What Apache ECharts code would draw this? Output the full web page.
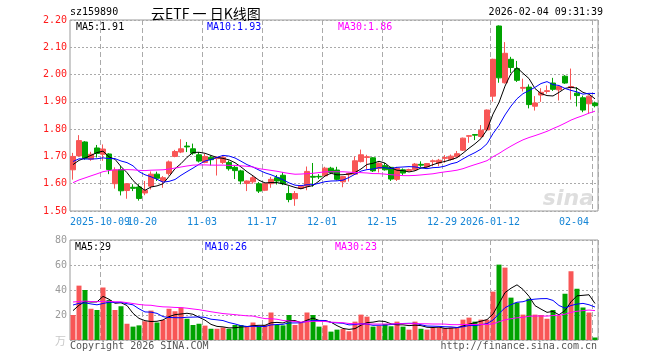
<!DOCTYPE html>
<html>
<head>
<meta charset="utf-8">
<script src="https://cdn.jsdelivr.net/npm/echarts@6/dist/echarts.min.js"></script>
<style>
html,body{margin:0;padding:0;background:#fff;}
#chart{width:660px;height:360px;}
</style>
</head>
<body>
<div id="chart"></div>
<script>
// ---------- data ----------
const dates = [
'2025-09-24','2025-09-25','2025-09-26','2025-09-29','2025-09-30',
'2025-10-09','2025-10-10','2025-10-13','2025-10-14','2025-10-15','2025-10-16','2025-10-17','2025-10-20','2025-10-21','2025-10-22','2025-10-23','2025-10-24','2025-10-27','2025-10-28','2025-10-29','2025-10-30','2025-10-31',
'2025-11-03','2025-11-04','2025-11-05','2025-11-06','2025-11-07','2025-11-10','2025-11-11','2025-11-12','2025-11-13','2025-11-14','2025-11-17','2025-11-18','2025-11-19','2025-11-20','2025-11-21','2025-11-24','2025-11-25','2025-11-26','2025-11-27','2025-11-28',
'2025-12-01','2025-12-02','2025-12-03','2025-12-04','2025-12-05','2025-12-08','2025-12-09','2025-12-10','2025-12-11','2025-12-12','2025-12-15','2025-12-16','2025-12-17','2025-12-18','2025-12-19','2025-12-22','2025-12-23','2025-12-24','2025-12-25','2025-12-26','2025-12-29','2025-12-30','2025-12-31',
'2026-01-05','2026-01-06','2026-01-07','2026-01-08','2026-01-09','2026-01-12','2026-01-13','2026-01-14','2026-01-15','2026-01-16','2026-01-19','2026-01-20','2026-01-21','2026-01-22','2026-01-23','2026-01-26','2026-01-27','2026-01-28','2026-01-29','2026-01-30',
'2026-02-02','2026-02-03','2026-02-04'
];

const open = [
1.651,1.702,1.753,1.690,1.731,1.708,1.709,1.600,1.652,1.575,
1.587,1.588,1.566,1.591,1.635,1.610,1.637,1.700,1.716,1.738,
1.728,1.706,1.678,1.697,1.692,1.678,1.678,1.660,1.647,1.601,
1.607,1.600,1.576,1.600,1.622,1.631,1.564,1.545,1.583,1.591,
1.627,1.627,1.629,1.657,1.650,1.607,1.633,1.635,1.681,1.696,
1.695,1.656,1.666,1.660,1.616,1.651,1.648,1.651,1.671,1.662,
1.681,1.676,1.693,1.689,1.699,1.723,1.774,1.780,1.773,1.797,
1.921,2.178,1.970,2.056,2.022,1.950,1.954,1.884,1.925,1.938,
1.969,1.944,1.994,1.952,1.932,1.915,1.893,1.896
];
const close = [
1.700,1.758,1.693,1.708,1.711,1.727,1.652,1.650,1.574,1.600,
1.583,1.546,1.576,1.635,1.620,1.622,1.680,1.718,1.728,1.735,
1.712,1.683,1.700,1.688,1.697,1.697,1.655,1.648,1.610,1.610,
1.622,1.573,1.600,1.616,1.610,1.600,1.542,1.564,1.591,1.645,
1.624,1.625,1.657,1.641,1.616,1.626,1.638,1.684,1.706,1.699,
1.647,1.675,1.651,1.617,1.657,1.639,1.652,1.672,1.668,1.674,
1.684,1.686,1.696,1.701,1.710,1.767,1.776,1.778,1.796,1.870,
2.056,1.988,2.078,2.026,1.979,1.953,1.890,1.896,1.935,1.941,
1.946,1.956,1.969,1.956,1.923,1.870,1.921,1.886
];
const low = [
1.615,1.700,1.688,1.684,1.696,1.684,1.635,1.582,1.557,1.545,
1.573,1.538,1.558,1.579,1.610,1.585,1.630,1.697,1.712,1.716,
1.706,1.678,1.675,1.667,1.630,1.672,1.648,1.617,1.598,1.573,
1.600,1.566,1.573,1.585,1.597,1.595,1.532,1.519,1.580,1.576,
1.589,1.617,1.625,1.635,1.612,1.587,1.608,1.632,1.678,1.653,
1.643,1.641,1.648,1.610,1.610,1.632,1.645,1.648,1.660,1.660,
1.664,1.664,1.677,1.685,1.695,1.720,1.750,1.760,1.769,1.794,
1.901,1.970,1.967,2.006,1.973,1.938,1.876,1.868,1.900,1.930,
1.940,1.905,1.966,1.908,1.883,1.862,1.856,1.880
];
const high = [
1.713,1.778,1.756,1.717,1.742,1.744,1.712,1.660,1.665,1.602,
1.598,1.598,1.610,1.645,1.644,1.628,1.685,1.724,1.763,1.753,
1.747,1.716,1.710,1.703,1.700,1.703,1.685,1.665,1.651,1.612,
1.628,1.606,1.603,1.625,1.632,1.643,1.591,1.573,1.593,1.663,
1.676,1.635,1.662,1.662,1.662,1.628,1.640,1.700,1.725,1.706,
1.697,1.678,1.676,1.662,1.662,1.656,1.655,1.676,1.682,1.676,
1.689,1.691,1.705,1.707,1.720,1.769,1.778,1.781,1.815,1.872,
2.058,2.180,2.119,2.065,2.050,1.985,1.964,1.921,1.950,1.960,
1.988,1.960,1.998,2.022,1.954,1.923,1.923,1.901
];
// volume, unit: 万
const volume = [
20,43.5,40,25,24,42,32,24,27,13,
10.7,11.7,15,23.5,14,16,25,23,26,17,
12,13,11.5,9,9,10,9,12,12,10.4,
14,10.4,12,22,12,11.7,20,12,13.6,22,
20,10.7,11.7,6.7,8.3,8.8,7,14.7,20.3,18.7,
10.7,11.5,12.8,11,14.7,10.7,8.3,14.7,9,8.3,
9.6,10,9.6,10,10,16.3,17.9,14.7,16.3,16.3,
38.7,60.3,57.9,33.9,29.9,20.3,33,20.3,20,17,
24,19.7,37,55,41,26,22,2
];
// estimated closes / volumes of the 29 sessions before the window (needed for moving averages)
const priorClose = [
1.46,1.47,1.48,1.49,1.49, 1.53,1.56,1.58,1.58,1.60,
1.61,1.60,1.59,1.60,1.60, 1.60,1.61,1.61,1.62,1.62,
1.66,1.70,1.71,1.70,1.695, 1.68,1.65,1.66,1.66
];
const priorVolume = [
32,30,35,29,33,31,36,28,32,32,
34,30,28,36,32,29,33,30,31,31,
30,36,34,31,31.5, 22,25,27,23.5
];

const tickDates  = ['2025-10-09','2025-10-20','2025-11-03','2025-11-17','2025-12-01','2025-12-15','2025-12-29','2026-01-12','2026-02-04'];
const tickLabels = ['2025-10-09','10-20','11-03','11-17','12-01','12-15','12-29','2026-01-12','02-04'];

const priceMaText = ['MA5:1.91','MA10:1.93','MA30:1.86'];
const volMaText   = ['MA5:29','MA10:26','MA30:23'];

// ---------- chart ----------
const RED = '#f85656', GREEN = '#00a300', XLABEL = '#1585d6';
const MONO = '"DejaVu Sans Mono", "Liberation Mono", monospace';
const labelMap = {};
tickDates.forEach((d, i) => { labelMap[d] = tickLabels[i]; });
const isTick = (idx, val) => Object.prototype.hasOwnProperty.call(labelMap, val !== undefined ? val : dates[idx]);
// first tick label is drawn separately (it overlaps its neighbour, as in the original)
const axisLabelText = v => (v === tickDates[0] ? '' : (labelMap[v] || ''));

function sma(prior, cur, n) {
  const all = prior.concat(cur), off = prior.length;
  return cur.map((_, i) => {
    let s = 0;
    for (let k = off + i - n + 1; k <= off + i; k++) s += all[k];
    return +(s / n).toFixed(4);
  });
}

const kData = dates.map((d, i) => [open[i], close[i], low[i], high[i]]);
const volData = volume.map((v, i) => ({ value: v, itemStyle: { color: close[i] >= open[i] ? RED : GREEN } }));

const splitV = { show: true, interval: (i, v) => isTick(i, v), lineStyle: { color: '#aaa', type: [5, 3], width: 1 } };
const splitH = { show: true, lineStyle: { color: '#aaa', type: [2, 2], width: 1 } };

function maLine(name, data, color, xi) {
  return { name, type: 'line', data, xAxisIndex: xi, yAxisIndex: xi, symbol: 'none', smooth: false,
           lineStyle: { color, width: 1 }, itemStyle: { color }, z: 5, silent: true };
}

function txt(text, x, y, fill, align, font) {
  return { type: 'text', x, y, silent: true,
           style: { text, fill, font: font || ('10px ' + MONO), textAlign: align || 'left', verticalAlign: 'middle' } };
}

const graphics = [
  txt('sz159890', 70, 12, '#000'),
  txt('云ETF 一 日K线图', 151, 14, '#000', 'left', '14px "Noto Sans CJK SC", sans-serif'),
  txt('2026-02-04 09:31:39', 603, 12, '#000', 'right'),
  txt(priceMaText[0], 76, 27, '#000'),
  txt(priceMaText[1], 207, 27, '#0000ff'),
  txt(priceMaText[2], 338, 27, '#ff00ff'),
  txt(volMaText[0], 75, 247, '#000'),
  txt(volMaText[1], 205, 247, '#0000ff'),
  txt(volMaText[2], 335, 247, '#ff00ff'),
  txt('万', 66, 341, '#c8c8c8', 'right', '11px "Noto Sans CJK SC", sans-serif'),
  txt('Copyright 2026 SINA.COM', 70, 346, '#555'),
  txt('http://finance.sina.com.cn', 597, 346, '#555', 'right'),
  txt('sina', 594, 199, '#dedede', 'right', 'italic bold 22px "DejaVu Sans", sans-serif')
];

const chart = echarts.init(document.getElementById('chart'), null, { renderer: 'canvas' });
chart.setOption({
  animation: false,
  backgroundColor: '#fff',
  grid: [
    { left: 70, top: 20, width: 528, height: 191, show: true, borderColor: '#9a9a9a', borderWidth: 1, backgroundColor: 'transparent' },
    { left: 70, top: 240, width: 528, height: 100, show: true, borderColor: '#9a9a9a', borderWidth: 1, backgroundColor: 'transparent' }
  ],
  xAxis: [
    { type: 'category', data: dates, gridIndex: 0, boundaryGap: true,
      axisLine: { show: false }, axisTick: { show: false },
      axisLabel: { interval: (i, v) => isTick(i, v), formatter: axisLabelText,
                   color: XLABEL, fontFamily: MONO, fontSize: 10, margin: 6, padding: [0, 6, 0, 0],
                   alignMaxLabel: 'right', showMaxLabel: true, hideOverlap: false },
      splitLine: splitV },
    { type: 'category', data: dates, gridIndex: 1, boundaryGap: true,
      axisLine: { show: false }, axisTick: { show: false }, axisLabel: { show: false },
      splitLine: splitV }
  ],
  yAxis: [
    { type: 'value', gridIndex: 0, min: 1.5, max: 2.2, interval: 0.1, scale: false,
      axisLine: { show: false }, axisTick: { show: false },
      axisLabel: { color: '#ff1a1a', fontFamily: MONO, fontSize: 10, margin: 3, formatter: v => v.toFixed(2) },
      splitLine: splitH },
    { type: 'value', gridIndex: 1, min: 0, max: 80, interval: 20,
      axisLine: { show: false }, axisTick: { show: false },
      axisLabel: { color: '#999', fontFamily: MONO, fontSize: 10, margin: 3, formatter: v => v === 0 ? '' : String(v) },
      splitLine: splitH }
  ],
  series: [
    { type: 'candlestick', data: kData, xAxisIndex: 0, yAxisIndex: 0, barWidth: 5,
      itemStyle: { color: RED, color0: GREEN, borderColor: RED, borderColor0: GREEN, borderWidth: 1 }, z: 3 },
    maLine('MA5', sma(priorClose, close, 5), '#000000', 0),
    maLine('MA10', sma(priorClose, close, 10), '#0000ff', 0),
    maLine('MA30', sma(priorClose, close, 30), '#ff00ff', 0),
    { type: 'bar', data: volData, xAxisIndex: 1, yAxisIndex: 1, barWidth: 5, z: 3 },
    maLine('VMA5', sma(priorVolume, volume, 5), '#000000', 1),
    maLine('VMA10', sma(priorVolume, volume, 10), '#0000ff', 1),
    maLine('VMA30', sma(priorVolume, volume, 30), '#ff00ff', 1)
  ],
  graphic: graphics
});

// place the first date label at its tick (left edge of its category band)
const cx = chart.convertToPixel({ xAxisIndex: 0 }, tickDates[0]);
const band = 528 / dates.length;
graphics.push(txt(tickLabels[0], cx - band / 2, 222, XLABEL, 'center'));
chart.setOption({ graphic: graphics });
</script>
</body>
</html>
